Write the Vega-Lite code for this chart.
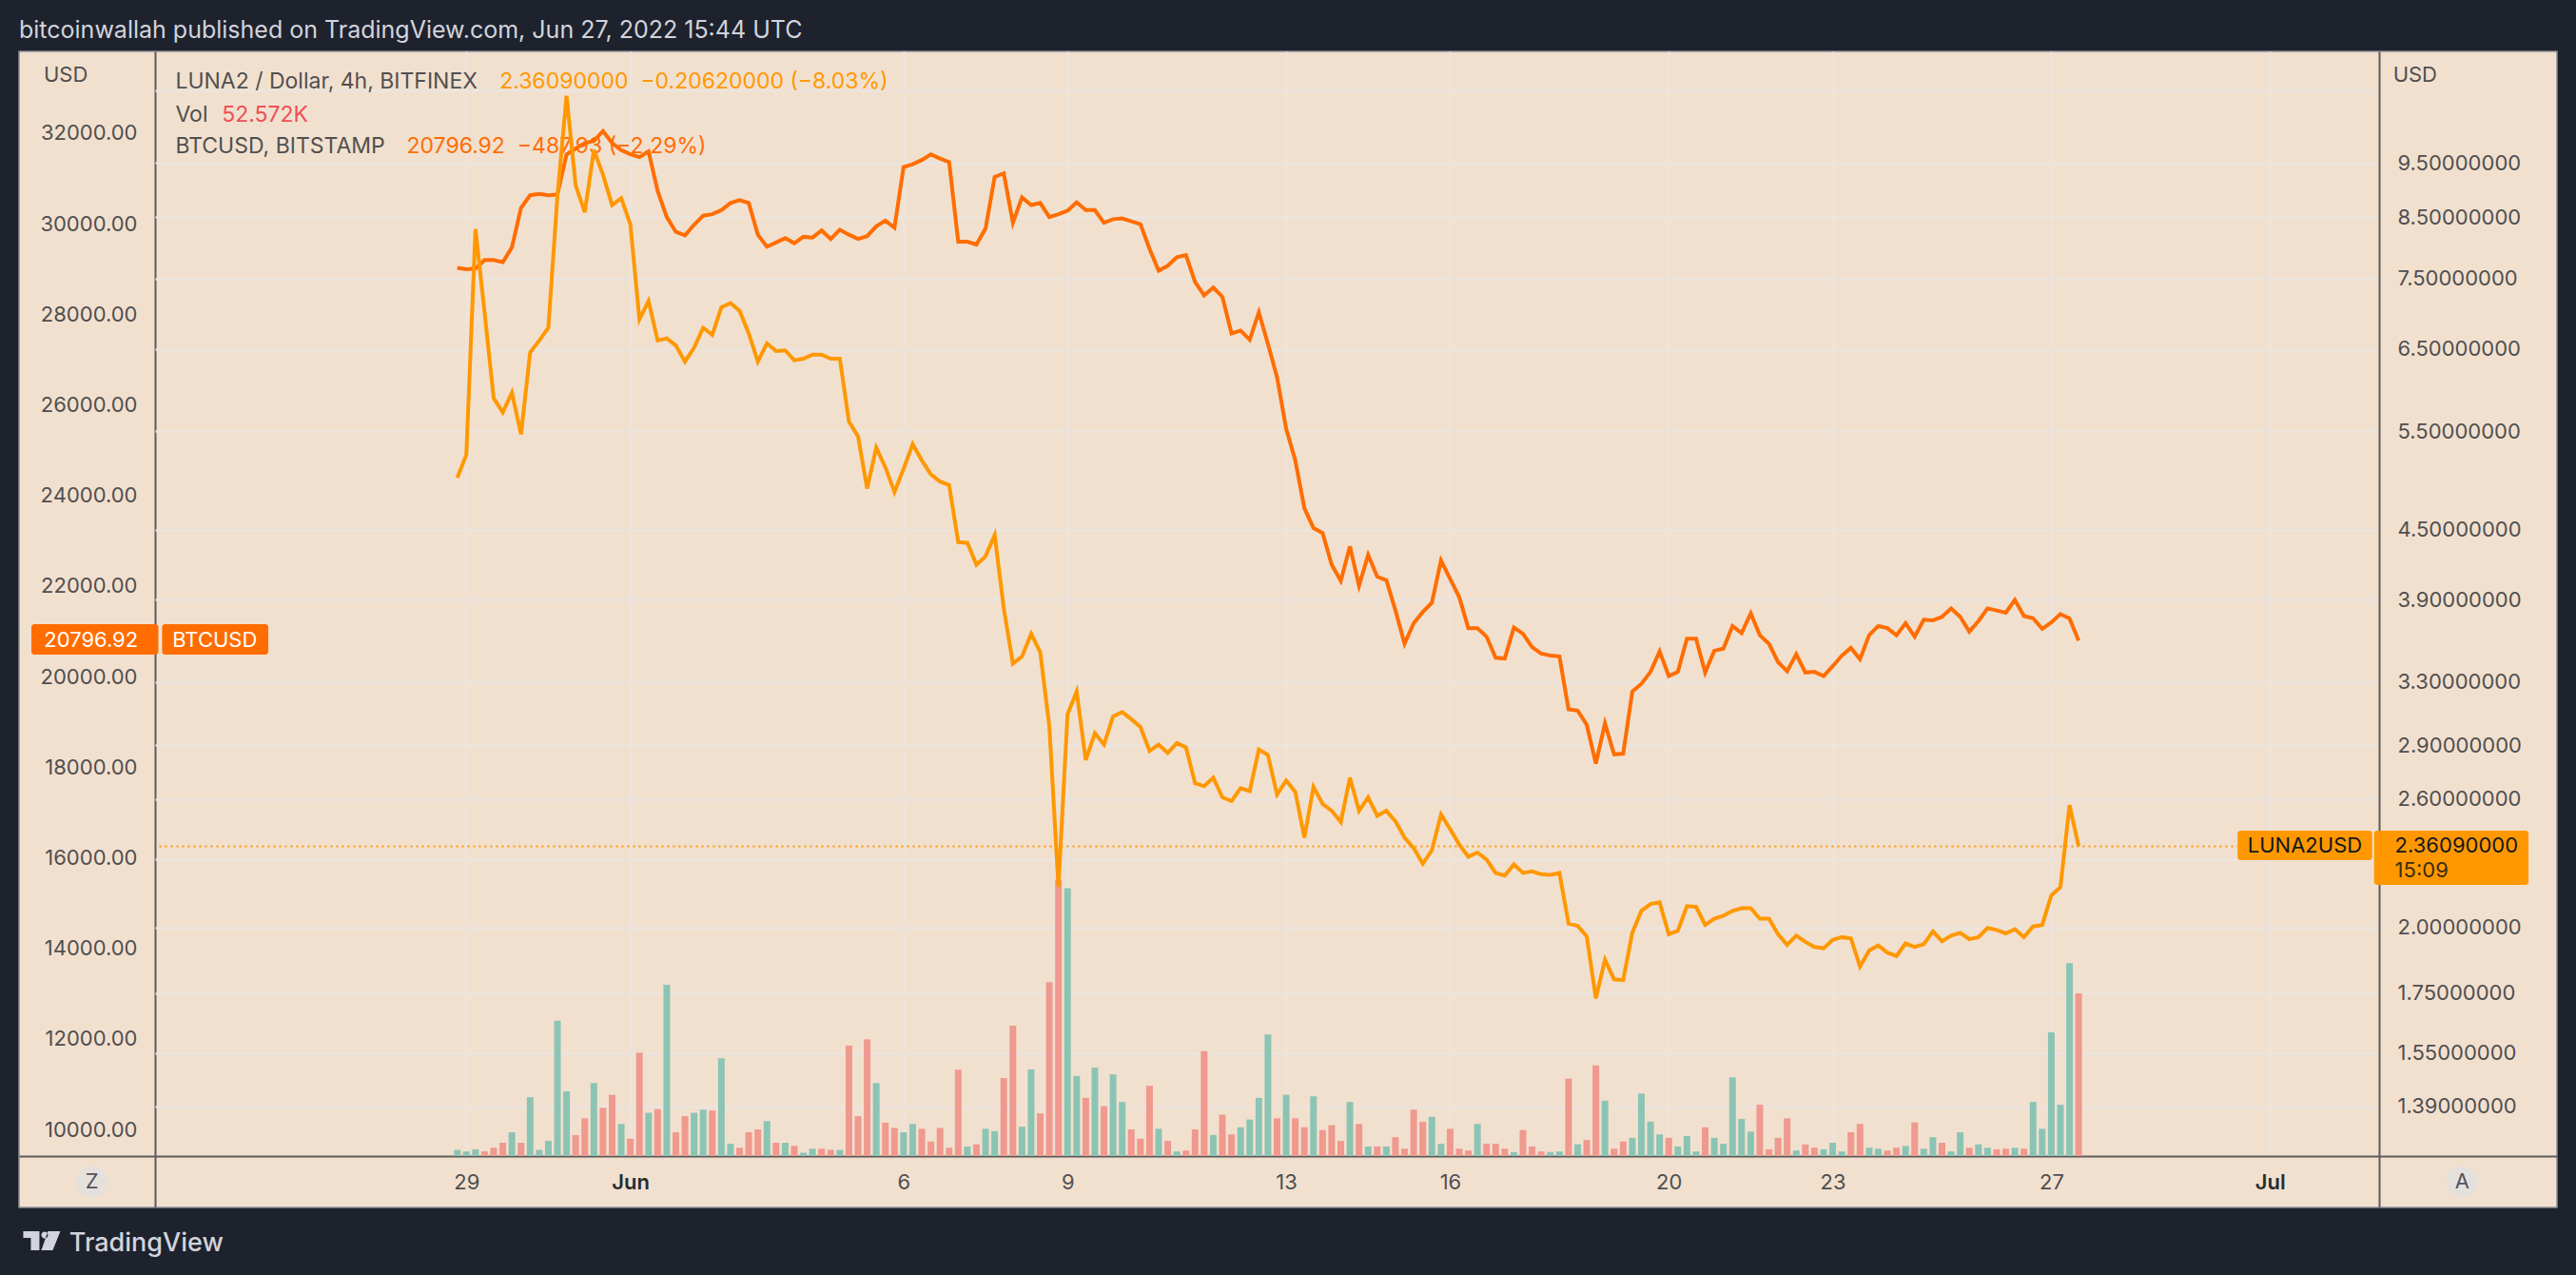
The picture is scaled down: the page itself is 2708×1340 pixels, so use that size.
{
  "$schema": "https://vega.github.io/schema/vega-lite/v6.json",
  "width": 2668,
  "height": 1215,
  "autosize": {"type": "none"},
  "padding": {"left": 20, "top": 54, "right": 20, "bottom": 71},
  "background": "#1e222d",
  "title": {
    "text": "bitcoinwallah published on TradingView.com, Jun 27, 2022 15:44 UTC",
    "anchor": "start", "frame": "group", "offset": 8,
    "font": "Inter", "fontSize": 25, "fontWeight": 400, "color": "#d1d4dc"
  },
  "datasets": {
    "bars": [
      {"time": "2022-05-28T20:00Z", "btc": 29027, "luna": 5.0, "vol": 2.0, "dir": "up"},
      {"time": "2022-05-29T00:00Z", "btc": 28996, "luna": 5.241, "vol": 1.5, "dir": "up"},
      {"time": "2022-05-29T04:00Z", "btc": 29011, "luna": 8.299, "vol": 2.2, "dir": "up"},
      {"time": "2022-05-29T08:00Z", "btc": 29198, "luna": 7.005, "vol": 1.5, "dir": "down"},
      {"time": "2022-05-29T12:00Z", "btc": 29198, "luna": 5.879, "vol": 2.7, "dir": "down"},
      {"time": "2022-05-29T16:00Z", "btc": 29151, "luna": 5.713, "vol": 4.3, "dir": "down"},
      {"time": "2022-05-29T20:00Z", "btc": 29478, "luna": 5.947, "vol": 7.7, "dir": "up"},
      {"time": "2022-05-30T00:00Z", "btc": 30350, "luna": 5.464, "vol": 4.3, "dir": "down"},
      {"time": "2022-05-30T04:00Z", "btc": 30631, "luna": 6.454, "vol": 19.0, "dir": "up"},
      {"time": "2022-05-30T08:00Z", "btc": 30662, "luna": 6.614, "vol": 2.0, "dir": "up"},
      {"time": "2022-05-30T12:00Z", "btc": 30631, "luna": 6.787, "vol": 4.9, "dir": "up"},
      {"time": "2022-05-30T16:00Z", "btc": 30646, "luna": 8.878, "vol": 43.7, "dir": "up"},
      {"time": "2022-05-30T20:00Z", "btc": 31534, "luna": 10.887, "vol": 20.9, "dir": "up"},
      {"time": "2022-05-31T00:00Z", "btc": 31658, "luna": 9.071, "vol": 6.8, "dir": "down"},
      {"time": "2022-05-31T04:00Z", "btc": 31783, "luna": 8.589, "vol": 12.2, "dir": "down"},
      {"time": "2022-05-31T08:00Z", "btc": 31829, "luna": 9.747, "vol": 23.6, "dir": "up"},
      {"time": "2022-05-31T12:00Z", "btc": 32047, "luna": 9.27, "vol": 15.6, "dir": "down"},
      {"time": "2022-05-31T16:00Z", "btc": 31783, "luna": 8.714, "vol": 19.8, "dir": "down"},
      {"time": "2022-05-31T20:00Z", "btc": 31627, "luna": 8.84, "vol": 10.4, "dir": "up"},
      {"time": "2022-06-01T00:00Z", "btc": 31534, "luna": 8.382, "vol": 5.6, "dir": "down"},
      {"time": "2022-06-01T04:00Z", "btc": 31471, "luna": 6.905, "vol": 33.4, "dir": "down"},
      {"time": "2022-06-01T08:00Z", "btc": 31596, "luna": 7.168, "vol": 14.0, "dir": "up"},
      {"time": "2022-06-01T12:00Z", "btc": 30724, "luna": 6.614, "vol": 15.2, "dir": "down"},
      {"time": "2022-06-01T16:00Z", "btc": 30148, "luna": 6.642, "vol": 55.3, "dir": "up"},
      {"time": "2022-06-01T20:00Z", "btc": 29821, "luna": 6.547, "vol": 7.7, "dir": "down"},
      {"time": "2022-06-02T00:00Z", "btc": 29743, "luna": 6.335, "vol": 12.9, "dir": "down"},
      {"time": "2022-06-02T04:00Z", "btc": 29977, "luna": 6.519, "vol": 14.0, "dir": "up"},
      {"time": "2022-06-02T08:00Z", "btc": 30179, "luna": 6.787, "vol": 15.0, "dir": "up"},
      {"time": "2022-06-02T12:00Z", "btc": 30210, "luna": 6.69, "vol": 14.7, "dir": "down"},
      {"time": "2022-06-02T16:00Z", "btc": 30304, "luna": 7.077, "vol": 31.6, "dir": "up"},
      {"time": "2022-06-02T20:00Z", "btc": 30459, "luna": 7.138, "vol": 4.0, "dir": "up"},
      {"time": "2022-06-03T00:00Z", "btc": 30522, "luna": 7.026, "vol": 2.7, "dir": "down"},
      {"time": "2022-06-03T04:00Z", "btc": 30459, "luna": 6.709, "vol": 7.7, "dir": "down"},
      {"time": "2022-06-03T08:00Z", "btc": 29759, "luna": 6.335, "vol": 8.6, "dir": "down"},
      {"time": "2022-06-03T12:00Z", "btc": 29494, "luna": 6.576, "vol": 11.3, "dir": "up"},
      {"time": "2022-06-03T16:00Z", "btc": 29587, "luna": 6.472, "vol": 4.3, "dir": "down"},
      {"time": "2022-06-03T20:00Z", "btc": 29681, "luna": 6.482, "vol": 4.3, "dir": "up"},
      {"time": "2022-06-04T00:00Z", "btc": 29572, "luna": 6.353, "vol": 3.3, "dir": "down"},
      {"time": "2022-06-04T04:00Z", "btc": 29712, "luna": 6.372, "vol": 1.1, "dir": "up"},
      {"time": "2022-06-04T08:00Z", "btc": 29696, "luna": 6.427, "vol": 2.4, "dir": "up"},
      {"time": "2022-06-04T12:00Z", "btc": 29852, "luna": 6.427, "vol": 2.4, "dir": "down"},
      {"time": "2022-06-04T16:00Z", "btc": 29665, "luna": 6.372, "vol": 2.0, "dir": "down"},
      {"time": "2022-06-04T20:00Z", "btc": 29868, "luna": 6.372, "vol": 2.0, "dir": "up"},
      {"time": "2022-06-05T00:00Z", "btc": 29759, "luna": 5.607, "vol": 35.7, "dir": "down"},
      {"time": "2022-06-05T04:00Z", "btc": 29665, "luna": 5.441, "vol": 12.9, "dir": "down"},
      {"time": "2022-06-05T08:00Z", "btc": 29727, "luna": 4.892, "vol": 37.7, "dir": "down"},
      {"time": "2022-06-05T12:00Z", "btc": 29945, "luna": 5.318, "vol": 23.6, "dir": "up"},
      {"time": "2022-06-05T16:00Z", "btc": 30070, "luna": 5.108, "vol": 10.8, "dir": "down"},
      {"time": "2022-06-05T20:00Z", "btc": 29914, "luna": 4.857, "vol": 9.1, "dir": "down"},
      {"time": "2022-06-06T00:00Z", "btc": 31253, "luna": 5.093, "vol": 7.7, "dir": "up"},
      {"time": "2022-06-06T04:00Z", "btc": 31316, "luna": 5.355, "vol": 10.4, "dir": "up"},
      {"time": "2022-06-06T08:00Z", "btc": 31409, "luna": 5.181, "vol": 8.8, "dir": "down"},
      {"time": "2022-06-06T12:00Z", "btc": 31534, "luna": 5.034, "vol": 4.7, "dir": "down"},
      {"time": "2022-06-06T16:00Z", "btc": 31440, "luna": 4.962, "vol": 9.1, "dir": "down"},
      {"time": "2022-06-06T20:00Z", "btc": 31362, "luna": 4.927, "vol": 2.7, "dir": "down"},
      {"time": "2022-06-07T00:00Z", "btc": 29603, "luna": 4.386, "vol": 27.9, "dir": "down"},
      {"time": "2022-06-07T04:00Z", "btc": 29603, "luna": 4.38, "vol": 3.1, "dir": "up"},
      {"time": "2022-06-07T08:00Z", "btc": 29541, "luna": 4.189, "vol": 3.8, "dir": "down"},
      {"time": "2022-06-07T12:00Z", "btc": 29899, "luna": 4.262, "vol": 8.8, "dir": "up"},
      {"time": "2022-06-07T16:00Z", "btc": 31035, "luna": 4.45, "vol": 8.1, "dir": "up"},
      {"time": "2022-06-07T20:00Z", "btc": 31113, "luna": 3.832, "vol": 25.2, "dir": "down"},
      {"time": "2022-06-08T00:00Z", "btc": 30023, "luna": 3.426, "vol": 42.1, "dir": "down"},
      {"time": "2022-06-08T04:00Z", "btc": 30584, "luna": 3.475, "vol": 9.5, "dir": "up"},
      {"time": "2022-06-08T08:00Z", "btc": 30413, "luna": 3.639, "vol": 28.0, "dir": "up"},
      {"time": "2022-06-08T12:00Z", "btc": 30459, "luna": 3.506, "vol": 13.8, "dir": "down"},
      {"time": "2022-06-08T16:00Z", "btc": 30148, "luna": 3.015, "vol": 56.2, "dir": "down"},
      {"time": "2022-06-08T20:00Z", "btc": 30210, "luna": 2.173, "vol": 89.2, "dir": "down"},
      {"time": "2022-06-09T00:00Z", "btc": 30288, "luna": 3.089, "vol": 86.5, "dir": "up"},
      {"time": "2022-06-09T04:00Z", "btc": 30475, "luna": 3.235, "vol": 25.9, "dir": "up"},
      {"time": "2022-06-09T08:00Z", "btc": 30304, "luna": 2.814, "vol": 18.8, "dir": "down"},
      {"time": "2022-06-09T12:00Z", "btc": 30304, "luna": 2.972, "vol": 28.6, "dir": "up"},
      {"time": "2022-06-09T16:00Z", "btc": 30023, "luna": 2.904, "vol": 16.1, "dir": "down"},
      {"time": "2022-06-09T20:00Z", "btc": 30101, "luna": 3.076, "vol": 26.4, "dir": "up"},
      {"time": "2022-06-10T00:00Z", "btc": 30117, "luna": 3.103, "vol": 17.5, "dir": "up"},
      {"time": "2022-06-10T04:00Z", "btc": 30054, "luna": 3.058, "vol": 8.6, "dir": "down"},
      {"time": "2022-06-10T08:00Z", "btc": 29992, "luna": 3.01, "vol": 5.6, "dir": "down"},
      {"time": "2022-06-10T12:00Z", "btc": 29447, "luna": 2.867, "vol": 22.7, "dir": "down"},
      {"time": "2022-06-10T16:00Z", "btc": 28964, "luna": 2.904, "vol": 8.8, "dir": "up"},
      {"time": "2022-06-10T20:00Z", "btc": 29073, "luna": 2.855, "vol": 4.9, "dir": "down"},
      {"time": "2022-06-11T00:00Z", "btc": 29260, "luna": 2.913, "vol": 1.5, "dir": "up"},
      {"time": "2022-06-11T04:00Z", "btc": 29307, "luna": 2.888, "vol": 1.8, "dir": "down"},
      {"time": "2022-06-11T08:00Z", "btc": 28715, "luna": 2.684, "vol": 8.6, "dir": "down"},
      {"time": "2022-06-11T12:00Z", "btc": 28419, "luna": 2.668, "vol": 33.9, "dir": "down"},
      {"time": "2022-06-11T16:00Z", "btc": 28591, "luna": 2.715, "vol": 6.8, "dir": "up"},
      {"time": "2022-06-11T20:00Z", "btc": 28388, "luna": 2.608, "vol": 13.4, "dir": "down"},
      {"time": "2022-06-12T00:00Z", "btc": 27579, "luna": 2.589, "vol": 7.0, "dir": "down"},
      {"time": "2022-06-12T04:00Z", "btc": 27641, "luna": 2.657, "vol": 9.3, "dir": "up"},
      {"time": "2022-06-12T08:00Z", "btc": 27438, "luna": 2.642, "vol": 11.8, "dir": "up"},
      {"time": "2022-06-12T12:00Z", "btc": 28046, "luna": 2.875, "vol": 18.8, "dir": "up"},
      {"time": "2022-06-12T16:00Z", "btc": 27345, "luna": 2.843, "vol": 39.3, "dir": "up"},
      {"time": "2022-06-12T20:00Z", "btc": 26613, "luna": 2.623, "vol": 12.2, "dir": "down"},
      {"time": "2022-06-13T00:00Z", "btc": 25477, "luna": 2.699, "vol": 19.8, "dir": "up"},
      {"time": "2022-06-13T04:00Z", "btc": 24776, "luna": 2.638, "vol": 12.2, "dir": "down"},
      {"time": "2022-06-13T08:00Z", "btc": 23717, "luna": 2.403, "vol": 9.3, "dir": "down"},
      {"time": "2022-06-13T12:00Z", "btc": 23281, "luna": 2.664, "vol": 19.3, "dir": "up"},
      {"time": "2022-06-13T16:00Z", "btc": 23172, "luna": 2.574, "vol": 8.4, "dir": "down"},
      {"time": "2022-06-13T20:00Z", "btc": 22471, "luna": 2.538, "vol": 10.0, "dir": "down"},
      {"time": "2022-06-14T00:00Z", "btc": 22113, "luna": 2.48, "vol": 4.9, "dir": "down"},
      {"time": "2022-06-14T04:00Z", "btc": 22876, "luna": 2.715, "vol": 17.5, "dir": "up"},
      {"time": "2022-06-14T08:00Z", "btc": 22004, "luna": 2.538, "vol": 10.4, "dir": "down"},
      {"time": "2022-06-14T12:00Z", "btc": 22689, "luna": 2.608, "vol": 3.1, "dir": "up"},
      {"time": "2022-06-14T16:00Z", "btc": 22207, "luna": 2.512, "vol": 3.1, "dir": "down"},
      {"time": "2022-06-14T20:00Z", "btc": 22129, "luna": 2.538, "vol": 3.1, "dir": "up"},
      {"time": "2022-06-15T00:00Z", "btc": 21459, "luna": 2.484, "vol": 6.1, "dir": "down"},
      {"time": "2022-06-15T04:00Z", "btc": 20727, "luna": 2.403, "vol": 2.4, "dir": "down"},
      {"time": "2022-06-15T08:00Z", "btc": 21179, "luna": 2.352, "vol": 15.0, "dir": "down"},
      {"time": "2022-06-15T12:00Z", "btc": 21428, "luna": 2.278, "vol": 11.1, "dir": "down"},
      {"time": "2022-06-15T16:00Z", "btc": 21630, "luna": 2.342, "vol": 12.7, "dir": "up"},
      {"time": "2022-06-15T20:00Z", "btc": 22565, "luna": 2.519, "vol": 4.0, "dir": "up"},
      {"time": "2022-06-16T00:00Z", "btc": 22160, "luna": 2.445, "vol": 8.8, "dir": "down"},
      {"time": "2022-06-16T04:00Z", "btc": 21755, "luna": 2.369, "vol": 2.4, "dir": "down"},
      {"time": "2022-06-16T08:00Z", "btc": 21070, "luna": 2.311, "vol": 1.8, "dir": "down"},
      {"time": "2022-06-16T12:00Z", "btc": 21070, "luna": 2.331, "vol": 10.4, "dir": "up"},
      {"time": "2022-06-16T16:00Z", "btc": 20883, "luna": 2.298, "vol": 4.0, "dir": "down"},
      {"time": "2022-06-16T20:00Z", "btc": 20416, "luna": 2.236, "vol": 4.0, "dir": "down"},
      {"time": "2022-06-17T00:00Z", "btc": 20400, "luna": 2.224, "vol": 2.4, "dir": "down"},
      {"time": "2022-06-17T04:00Z", "btc": 21085, "luna": 2.275, "vol": 1.3, "dir": "up"},
      {"time": "2022-06-17T08:00Z", "btc": 20945, "luna": 2.236, "vol": 8.4, "dir": "down"},
      {"time": "2022-06-17T12:00Z", "btc": 20650, "luna": 2.243, "vol": 3.1, "dir": "down"},
      {"time": "2022-06-17T16:00Z", "btc": 20509, "luna": 2.23, "vol": 1.5, "dir": "down"},
      {"time": "2022-06-17T20:00Z", "btc": 20463, "luna": 2.227, "vol": 1.3, "dir": "up"},
      {"time": "2022-06-18T00:00Z", "btc": 20447, "luna": 2.236, "vol": 1.5, "dir": "up"},
      {"time": "2022-06-18T04:00Z", "btc": 19279, "luna": 2.017, "vol": 25.0, "dir": "down"},
      {"time": "2022-06-18T08:00Z", "btc": 19248, "luna": 2.008, "vol": 3.8, "dir": "up"},
      {"time": "2022-06-18T12:00Z", "btc": 18937, "luna": 1.965, "vol": 5.2, "dir": "down"},
      {"time": "2022-06-18T16:00Z", "btc": 18080, "luna": 1.732, "vol": 29.3, "dir": "down"},
      {"time": "2022-06-18T20:00Z", "btc": 18968, "luna": 1.874, "vol": 17.9, "dir": "up"},
      {"time": "2022-06-19T00:00Z", "btc": 18283, "luna": 1.8, "vol": 2.4, "dir": "down"},
      {"time": "2022-06-19T04:00Z", "btc": 18298, "luna": 1.798, "vol": 4.7, "dir": "down"},
      {"time": "2022-06-19T08:00Z", "btc": 19669, "luna": 1.979, "vol": 5.9, "dir": "up"},
      {"time": "2022-06-19T12:00Z", "btc": 19840, "luna": 2.07, "vol": 20.2, "dir": "up"},
      {"time": "2022-06-19T16:00Z", "btc": 20105, "luna": 2.099, "vol": 11.1, "dir": "up"},
      {"time": "2022-06-19T20:00Z", "btc": 20556, "luna": 2.106, "vol": 7.0, "dir": "up"},
      {"time": "2022-06-20T00:00Z", "btc": 20011, "luna": 1.974, "vol": 5.9, "dir": "down"},
      {"time": "2022-06-20T04:00Z", "btc": 20105, "luna": 1.988, "vol": 3.1, "dir": "up"},
      {"time": "2022-06-20T08:00Z", "btc": 20836, "luna": 2.09, "vol": 6.5, "dir": "up"},
      {"time": "2022-06-20T12:00Z", "btc": 20836, "luna": 2.087, "vol": 1.5, "dir": "up"},
      {"time": "2022-06-20T16:00Z", "btc": 20089, "luna": 2.011, "vol": 9.3, "dir": "down"},
      {"time": "2022-06-20T20:00Z", "btc": 20572, "luna": 2.037, "vol": 5.9, "dir": "up"},
      {"time": "2022-06-21T00:00Z", "btc": 20618, "luna": 2.049, "vol": 4.0, "dir": "up"},
      {"time": "2022-06-21T04:00Z", "btc": 21117, "luna": 2.07, "vol": 25.4, "dir": "up"},
      {"time": "2022-06-21T08:00Z", "btc": 20961, "luna": 2.081, "vol": 12.0, "dir": "up"},
      {"time": "2022-06-21T12:00Z", "btc": 21397, "luna": 2.081, "vol": 7.9, "dir": "up"},
      {"time": "2022-06-21T16:00Z", "btc": 20914, "luna": 2.037, "vol": 16.6, "dir": "down"},
      {"time": "2022-06-21T20:00Z", "btc": 20727, "luna": 2.037, "vol": 2.2, "dir": "down"},
      {"time": "2022-06-22T00:00Z", "btc": 20323, "luna": 1.974, "vol": 5.9, "dir": "down"},
      {"time": "2022-06-22T04:00Z", "btc": 20120, "luna": 1.931, "vol": 12.2, "dir": "down"},
      {"time": "2022-06-22T08:00Z", "btc": 20494, "luna": 1.968, "vol": 1.8, "dir": "up"},
      {"time": "2022-06-22T12:00Z", "btc": 20089, "luna": 1.943, "vol": 3.8, "dir": "down"},
      {"time": "2022-06-22T16:00Z", "btc": 20105, "luna": 1.923, "vol": 2.7, "dir": "down"},
      {"time": "2022-06-22T20:00Z", "btc": 20011, "luna": 1.918, "vol": 2.2, "dir": "up"},
      {"time": "2022-06-23T00:00Z", "btc": 20229, "luna": 1.951, "vol": 4.3, "dir": "up"},
      {"time": "2022-06-23T04:00Z", "btc": 20463, "luna": 1.962, "vol": 1.5, "dir": "up"},
      {"time": "2022-06-23T08:00Z", "btc": 20634, "luna": 1.957, "vol": 7.7, "dir": "down"},
      {"time": "2022-06-23T12:00Z", "btc": 20385, "luna": 1.848, "vol": 10.4, "dir": "down"},
      {"time": "2022-06-23T16:00Z", "btc": 20914, "luna": 1.909, "vol": 2.7, "dir": "up"},
      {"time": "2022-06-23T20:00Z", "btc": 21117, "luna": 1.929, "vol": 2.4, "dir": "up"},
      {"time": "2022-06-24T00:00Z", "btc": 21070, "luna": 1.901, "vol": 1.8, "dir": "down"},
      {"time": "2022-06-24T04:00Z", "btc": 20914, "luna": 1.888, "vol": 2.7, "dir": "down"},
      {"time": "2022-06-24T08:00Z", "btc": 21179, "luna": 1.937, "vol": 3.3, "dir": "up"},
      {"time": "2022-06-24T12:00Z", "btc": 20883, "luna": 1.923, "vol": 10.9, "dir": "down"},
      {"time": "2022-06-24T16:00Z", "btc": 21257, "luna": 1.934, "vol": 2.4, "dir": "up"},
      {"time": "2022-06-24T20:00Z", "btc": 21241, "luna": 1.985, "vol": 6.1, "dir": "up"},
      {"time": "2022-06-25T00:00Z", "btc": 21319, "luna": 1.946, "vol": 4.3, "dir": "down"},
      {"time": "2022-06-25T04:00Z", "btc": 21506, "luna": 1.968, "vol": 1.5, "dir": "up"},
      {"time": "2022-06-25T08:00Z", "btc": 21319, "luna": 1.979, "vol": 7.7, "dir": "up"},
      {"time": "2022-06-25T12:00Z", "btc": 20992, "luna": 1.954, "vol": 2.7, "dir": "down"},
      {"time": "2022-06-25T16:00Z", "btc": 21226, "luna": 1.962, "vol": 3.8, "dir": "up"},
      {"time": "2022-06-25T20:00Z", "btc": 21506, "luna": 1.999, "vol": 2.7, "dir": "up"},
      {"time": "2022-06-26T00:00Z", "btc": 21459, "luna": 1.991, "vol": 2.2, "dir": "down"},
      {"time": "2022-06-26T04:00Z", "btc": 21412, "luna": 1.977, "vol": 2.4, "dir": "down"},
      {"time": "2022-06-26T08:00Z", "btc": 21693, "luna": 1.994, "vol": 2.7, "dir": "up"},
      {"time": "2022-06-26T12:00Z", "btc": 21335, "luna": 1.962, "vol": 2.4, "dir": "down"},
      {"time": "2022-06-26T16:00Z", "btc": 21288, "luna": 2.005, "vol": 17.5, "dir": "up"},
      {"time": "2022-06-26T20:00Z", "btc": 21054, "luna": 2.011, "vol": 8.8, "dir": "up"},
      {"time": "2022-06-27T00:00Z", "btc": 21194, "luna": 2.136, "vol": 40.0, "dir": "up"},
      {"time": "2022-06-27T04:00Z", "btc": 21381, "luna": 2.173, "vol": 16.6, "dir": "up"},
      {"time": "2022-06-27T08:00Z", "btc": 21284.85, "luna": 2.5671, "vol": 62.3, "dir": "up"},
      {"time": "2022-06-27T12:00Z", "btc": 20796.92, "luna": 2.3609, "vol": 52.572, "dir": "down"}
    ]
  },
  "data": {"name": "bars"},
  "layer": [
    {
      "mark": {"type": "bar", "width": 7},
      "encoding": {
        "x": {
          "field": "time", "type": "temporal", "title": null,
          "scale": {
            "type": "utc", "nice": false,
            "domain": [
              {"year": 2022, "month": 5, "date": 20, "hours": 21, "minutes": 39, "utc": true},
              {"year": 2022, "month": 7, "date": 6, "hours": 3, "minutes": 58, "utc": true}
            ]
          },
          "axis": {
            "orient": "bottom", "offset": -54, "zindex": 0, "grid": false,
            "values": [
              {"year": 2022, "month": 5, "date": 29, "utc": true},
              {"year": 2022, "month": 6, "date": 1, "utc": true},
              {"year": 2022, "month": 6, "date": 6, "utc": true},
              {"year": 2022, "month": 6, "date": 9, "utc": true},
              {"year": 2022, "month": 6, "date": 13, "utc": true},
              {"year": 2022, "month": 6, "date": 16, "utc": true},
              {"year": 2022, "month": 6, "date": 20, "utc": true},
              {"year": 2022, "month": 6, "date": 23, "utc": true},
              {"year": 2022, "month": 6, "date": 27, "utc": true},
              {"year": 2022, "month": 7, "date": 1, "utc": true}
            ],
            "labelExpr": "utcdate(datum.value) == 1 ? utcFormat(datum.value, '%b') : utcFormat(datum.value, '%-d')",
            "labelFontWeight": {"condition": {"test": "utcdate(datum.value) == 1", "value": 600}, "value": 400},
            "labelColor": {"condition": {"test": "utcdate(datum.value) == 1", "value": "#2b2b2b"}, "value": "#4f4f4f"},
            "ticks": true, "tickSize": -1161, "tickColor": "#ebe5de", "tickWidth": 2.5,
            "labelPadding": 1188, "labelBaseline": "middle"
          }
        },
        "y": {"field": "vol", "type": "quantitative", "title": null, "axis": null,
              "scale": {"domain": [-16.6, 356.9], "nice": false, "zero": false}},
        "y2": {"datum": 0},
        "color": {"field": "dir", "type": "nominal", "legend": null,
                  "scale": {"domain": ["up", "down"], "range": ["#8cc4b4", "#f0998e"]}}
      }
    },
    {
      "layer": [
        {
          "data": {"values": [{}]},
          "mark": {"type": "text", "font": "Inter", "fontSize": 23, "align": "left", "baseline": "alphabetic", "color": "#505050"},
          "encoding": {
            "x": {"datum": {"year": 2022, "month": 5, "date": 23, "hours": 16, "minutes": 14, "utc": true}},
            "y": {"datum": 32988},
            "text": {"value": "LUNA2 / Dollar, 4h, BITFINEX"}
          }
        },
        {
          "data": {"values": [{}]},
          "mark": {"type": "text", "font": "Inter", "fontSize": 23, "align": "left", "baseline": "alphabetic", "color": "#ff9800"},
          "encoding": {
            "x": {"datum": {"year": 2022, "month": 5, "date": 29, "hours": 14, "minutes": 34, "utc": true}},
            "y": {"datum": 32988},
            "text": {"value": "2.36090000\u00a0\u00a0−0.20620000\u00a0(−8.03%)"}
          }
        },
        {
          "data": {"values": [{}]},
          "mark": {"type": "text", "font": "Inter", "fontSize": 23, "align": "left", "baseline": "alphabetic", "color": "#505050"},
          "encoding": {
            "x": {"datum": {"year": 2022, "month": 5, "date": 23, "hours": 16, "minutes": 14, "utc": true}},
            "y": {"datum": 32252},
            "text": {"value": "Vol"}
          }
        },
        {
          "data": {"values": [{}]},
          "mark": {"type": "text", "font": "Inter", "fontSize": 23, "align": "left", "baseline": "alphabetic", "color": "#ef4f55"},
          "encoding": {
            "x": {"datum": {"year": 2022, "month": 5, "date": 24, "hours": 12, "minutes": 38, "utc": true}},
            "y": {"datum": 32252},
            "text": {"value": "52.572K"}
          }
        },
        {
          "data": {"values": [{}]},
          "mark": {"type": "text", "font": "Inter", "fontSize": 23, "align": "left", "baseline": "alphabetic", "color": "#505050"},
          "encoding": {
            "x": {"datum": {"year": 2022, "month": 5, "date": 23, "hours": 16, "minutes": 14, "utc": true}},
            "y": {"datum": 31559},
            "text": {"value": "BTCUSD, BITSTAMP"}
          }
        },
        {
          "data": {"values": [{}]},
          "mark": {"type": "text", "font": "Inter", "fontSize": 23, "align": "left", "baseline": "alphabetic", "color": "#ff6d00"},
          "encoding": {
            "x": {"datum": {"year": 2022, "month": 5, "date": 27, "hours": 21, "minutes": 47, "utc": true}},
            "y": {"datum": 31559},
            "text": {"value": "20796.92\u00a0\u00a0−487.93\u00a0(−2.29%)"}
          }
        },
        {
          "data": {"values": [{}]},
          "mark": {"type": "text", "font": "Inter", "fontSize": 22, "align": "left", "baseline": "alphabetic", "color": "#4f4f4f"},
          "encoding": {
            "x": {"datum": {"year": 2022, "month": 5, "date": 21, "hours": 6, "minutes": 23, "utc": true}},
            "y": {"datum": 33135},
            "text": {"value": "USD"}
          }
        },
        {
          "data": {"values": [{}]},
          "mark": {"type": "text", "font": "Inter", "fontSize": 22, "align": "left", "baseline": "alphabetic", "color": "#4f4f4f"},
          "encoding": {
            "x": {"datum": {"year": 2022, "month": 7, "date": 3, "hours": 6, "minutes": 3, "utc": true}},
            "y": {"datum": 33135},
            "text": {"value": "USD"}
          }
        },
        {
          "data": {"values": [{}]},
          "mark": {"type": "rect", "color": "#ff6d00", "cornerRadius": 3},
          "encoding": {
            "x": {"datum": {"year": 2022, "month": 5, "date": 21, "hours": 0, "minutes": 59, "utc": true}},
            "x2": {"datum": {"year": 2022, "month": 5, "date": 23, "hours": 8, "minutes": 45, "utc": true}},
            "y": {"datum": 21158},
            "y2": {"datum": 20486}
          }
        },
        {
          "data": {"values": [{}]},
          "mark": {"type": "rect", "color": "#ff6d00", "cornerRadius": 3},
          "encoding": {
            "x": {"datum": {"year": 2022, "month": 5, "date": 23, "hours": 10, "minutes": 23, "utc": true}},
            "x2": {"datum": {"year": 2022, "month": 5, "date": 25, "hours": 9, "minutes": 1, "utc": true}},
            "y": {"datum": 21158},
            "y2": {"datum": 20486}
          }
        },
        {
          "data": {"values": [{}]},
          "mark": {"type": "text", "font": "Inter", "fontSize": 22, "align": "center", "baseline": "middle", "color": "#ffffff"},
          "encoding": {
            "x": {"datum": {"year": 2022, "month": 5, "date": 22, "hours": 3, "minutes": 12, "utc": true}},
            "y": {"datum": 20796.92},
            "text": {"value": "20796.92"}
          }
        },
        {
          "data": {"values": [{}]},
          "mark": {"type": "text", "font": "Inter", "fontSize": 22, "align": "center", "baseline": "middle", "color": "#ffffff"},
          "encoding": {
            "x": {"datum": {"year": 2022, "month": 5, "date": 24, "hours": 9, "minutes": 31, "utc": true}},
            "y": {"datum": 20796.92},
            "text": {"value": "BTCUSD"}
          }
        },
        {
          "data": {"values": [{}]},
          "mark": {"type": "point", "shape": "circle", "filled": true, "size": 1134, "color": "#e6e0dc", "opacity": 1},
          "encoding": {
            "x": {"datum": {"year": 2022, "month": 5, "date": 22, "hours": 3, "minutes": 37, "utc": true}},
            "y": {"datum": 8845}
          }
        },
        {
          "data": {"values": [{}]},
          "mark": {"type": "point", "shape": "circle", "filled": true, "size": 1134, "color": "#e6e0dc", "opacity": 1},
          "encoding": {
            "x": {"datum": {"year": 2022, "month": 7, "date": 4, "hours": 12, "minutes": 26, "utc": true}},
            "y": {"datum": 8845}
          }
        },
        {
          "data": {"values": [{}]},
          "mark": {"type": "text", "font": "Inter", "fontSize": 22, "align": "center", "baseline": "middle", "color": "#50535e"},
          "encoding": {
            "x": {"datum": {"year": 2022, "month": 5, "date": 22, "hours": 3, "minutes": 37, "utc": true}},
            "y": {"datum": 8845},
            "text": {"value": "Z"}
          }
        },
        {
          "data": {"values": [{}]},
          "mark": {"type": "text", "font": "Inter", "fontSize": 22, "align": "center", "baseline": "middle", "color": "#50535e"},
          "encoding": {
            "x": {"datum": {"year": 2022, "month": 7, "date": 4, "hours": 12, "minutes": 26, "utc": true}},
            "y": {"datum": 8845},
            "text": {"value": "A"}
          }
        },
        {
          "data": {"values": [{}]},
          "mark": {"type": "point", "filled": true, "size": 1521, "color": "#d1d4dc", "opacity": 1,
                   "shape": "M-1,-0.513H-0.128V0.513H-0.59V-0.154H-1Z M-0.026,-0.308a0.18,0.18 0 1,0 0.36,0a0.18,0.18 0 1,0 -0.36,0Z M0.333,-0.513H1L0.59,0.513H-0.026Z"},
          "encoding": {
            "x": {"datum": {"year": 2022, "month": 5, "date": 21, "hours": 5, "minutes": 34, "utc": true}},
            "y": {"datum": 7543}
          }
        },
        {
          "data": {"values": [{}]},
          "mark": {"type": "text", "font": "Inter", "fontSize": 27, "fontWeight": 500, "align": "left", "baseline": "alphabetic", "color": "#d1d4dc"},
          "encoding": {
            "x": {"datum": {"year": 2022, "month": 5, "date": 21, "hours": 17, "minutes": 38, "utc": true}},
            "y": {"datum": 7311},
            "text": {"value": "TradingView"}
          }
        },
        {
          "mark": {"type": "line", "color": "#ff6d00", "strokeWidth": 4},
          "encoding": {
            "x": {"field": "time", "type": "temporal", "title": null},
            "y": {
              "field": "btc", "type": "quantitative", "title": null,
              "scale": {"domain": [8277, 33807], "nice": false, "zero": false},
              "axis": {
                "orient": "left", "offset": -143, "zindex": 0, "grid": false,
                "values": [10000, 12000, 14000, 16000, 18000, 20000, 22000, 24000, 26000, 28000, 30000, 32000],
                "format": ".2f", "ticks": false, "labelPadding": 19
              }
            }
          }
        }
      ]
    },
    {
      "layer": [
        {
          "mark": {"type": "line", "color": "#ff9800", "strokeWidth": 4},
          "encoding": {
            "x": {"field": "time", "type": "temporal", "title": null},
            "y": {
              "field": "luna", "type": "quantitative", "title": null,
              "scale": {"type": "log", "domain": [1.1313, 11.918], "nice": false},
              "axis": {
                "orient": "right", "offset": -187, "zindex": 0, "grid": false,
                "values": [11, 9.5, 8.5, 7.5, 6.5, 5.5, 4.5, 3.9, 3.3, 2.9, 2.6, 2.3, 2, 1.75, 1.55, 1.39],
                "format": ".8f",
                "labelExpr": "datum.value == 11 || datum.value == 2.3 ? '' : datum.label",
                "ticks": true, "tickSize": -2338, "tickColor": "#ebe5de", "tickWidth": 2.5,
                "labelPadding": 2357
              }
            }
          }
        },
        {
          "data": {"values": [{}]},
          "mark": {"type": "rule", "color": "#ff9800", "strokeWidth": 2, "strokeDash": [2, 4]},
          "encoding": {
            "x": {"datum": {"year": 2022, "month": 5, "date": 23, "hours": 9, "minutes": 10, "utc": true}},
            "x2": {"datum": {"year": 2022, "month": 6, "date": 30, "hours": 9, "minutes": 48, "utc": true}},
            "y": {"datum": 2.3609}
          }
        },
        {
          "data": {"values": [{}]},
          "mark": {"type": "rect", "color": "#ff9800", "cornerRadius": 3},
          "encoding": {
            "x": {"datum": {"year": 2022, "month": 6, "date": 30, "hours": 9, "minutes": 48, "utc": true}},
            "x2": {"datum": {"year": 2022, "month": 7, "date": 2, "hours": 20, "minutes": 54, "utc": true}},
            "y": {"datum": 2.437},
            "y2": {"datum": 2.295}
          }
        },
        {
          "data": {"values": [{}]},
          "mark": {"type": "rect", "color": "#ff9800", "cornerRadius": 3},
          "encoding": {
            "x": {"datum": {"year": 2022, "month": 7, "date": 2, "hours": 21, "minutes": 44, "utc": true}},
            "x2": {"datum": {"year": 2022, "month": 7, "date": 5, "hours": 17, "minutes": 34, "utc": true}},
            "y": {"datum": 2.437},
            "y2": {"datum": 2.182}
          }
        },
        {
          "data": {"values": [{}]},
          "mark": {"type": "text", "font": "Inter", "fontSize": 22, "align": "center", "baseline": "middle", "color": "#131722"},
          "encoding": {
            "x": {"datum": {"year": 2022, "month": 7, "date": 1, "hours": 15, "minutes": 21, "utc": true}},
            "y": {"datum": 2.3609},
            "text": {"value": "LUNA2USD"}
          }
        },
        {
          "data": {"values": [{}]},
          "mark": {"type": "text", "font": "Inter", "fontSize": 22, "align": "left", "baseline": "middle", "color": "#131722"},
          "encoding": {
            "x": {"datum": {"year": 2022, "month": 7, "date": 3, "hours": 6, "minutes": 53, "utc": true}},
            "y": {"datum": 2.3609},
            "text": {"value": "2.36090000"}
          }
        },
        {
          "data": {"values": [{}]},
          "mark": {"type": "text", "font": "Inter", "fontSize": 22, "align": "left", "baseline": "middle", "color": "#3a2c14"},
          "encoding": {
            "x": {"datum": {"year": 2022, "month": 7, "date": 3, "hours": 6, "minutes": 53, "utc": true}},
            "y": {"datum": 2.247},
            "text": {"value": "15:09"}
          }
        }
      ]
    }
  ],
  "resolve": {"scale": {"y": "independent"}, "axis": {"y": "independent"}},
  "config": {
    "view": {"fill": "#f2e0cf", "stroke": "#8d8f96", "strokeWidth": 1.5},
    "font": "Inter",
    "axis": {
      "labelFont": "Inter", "labelFontSize": 22, "labelColor": "#4f4f4f",
      "domainColor": "#5b5b5b", "domainWidth": 2,
      "labelOverlap": false, "labelFlush": false, "titleOpacity": 0
    }
  }
}
